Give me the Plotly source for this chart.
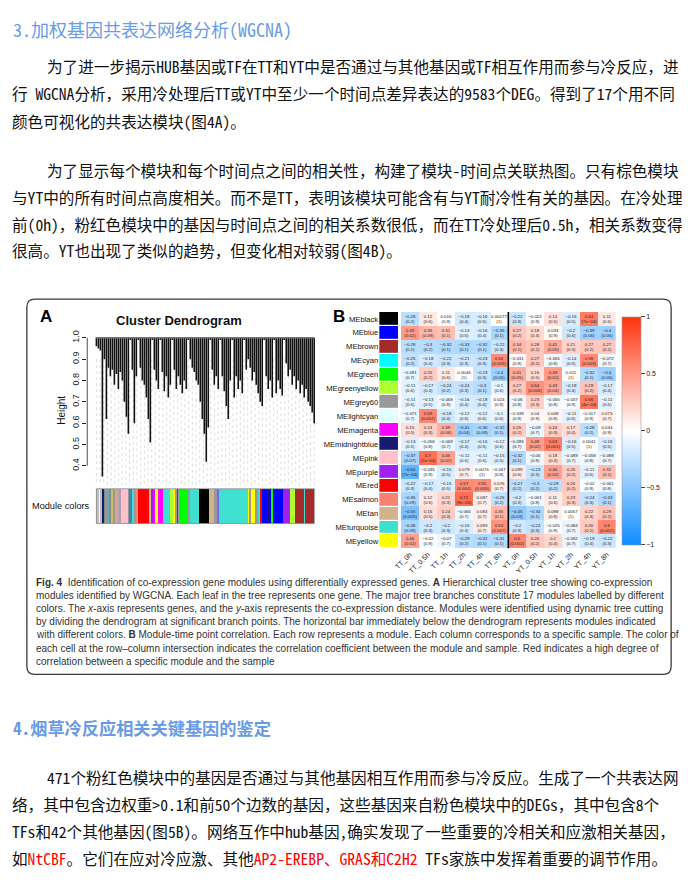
import numpy as np
import plotly.graph_objects as go

# page window size; the page body offsets the figure, so positions are given in window pixels
W, H = 690, 891
OX, OY = 15, 13
FW, FH = W - OX, H - OY


def px(x):
    return (x - OX) / FW


def py(y):
    return 1 - (y - OY) / FH


# ---- heatmap data (Fig. 4B) ----
modules = ["MEblack", "MEblue", "MEbrown", "MEcyan", "MEgreen", "MEgreenyellow", "MEgrey60",
           "MElightcyan", "MEmagenta", "MEmidnightblue", "MEpink", "MEpurple", "MEred",
           "MEsalmon", "MEtan", "MEturquoise", "MEyellow"]
module_colors = ["#000000", "#0000ff", "#a52a2a", "#00ffff", "#00ff00", "#adff2f", "#999999",
                 "#e0ffff", "#ff00ff", "#191970", "#ffc0cb", "#a020f0", "#ff0000",
                 "#fa8072", "#d2b48c", "#40e0d0", "#ffff00"]
samples = ["TT_0h", "TT_0.5h", "TT_1h", "TT_2h", "TT_4h", "TT_8h",
           "YT_0h", "YT_0.5h", "YT_1h", "YT_2h", "YT_4h", "YT_8h"]

cor = [
    [-0.28, 0.12, 0.016, -0.18, -0.16, 0.00077, -0.22, -0.022, 0.14, -0.16, 0.64, 0.11],
    [0.49, 0.35, 0.31, -0.13, -0.16, -0.35, 0.27, 0.18, 0.033, -0.2, -0.39, -0.4],
    [-0.28, -0.3, -0.32, -0.33, -0.32, -0.22, 0.34, 0.28, 0.41, 0.21, 0.27, 0.27],
    [-0.25, -0.18, -0.22, -0.21, -0.23, 0.56, -0.031, 0.27, -0.065, -0.14, 0.58, -0.072],
    [-0.091, 0.25, 0.11, 0.0046, -0.23, -0.4, 0.41, 0.16, 0.49, 0.011, -0.32, -0.4],
    [-0.11, -0.17, -0.24, -0.24, -0.3, -0.1, 0.27, 0.54, 0.43, -0.18, 0.29, -0.17],
    [-0.11, -0.13, -0.068, -0.16, -0.18, 0.024, -0.06, 0.23, -0.055, -0.037, 0.66, -0.11],
    [-0.071, 0.59, -0.18, -0.12, -0.12, -0.1, -0.039, 0.04, 0.048, -0.11, -0.017, 0.073],
    [0.15, 0.24, 0.39, -0.41, -0.36, -0.32, 0.25, -0.09, 0.24, 0.17, -0.28, 0.034],
    [-0.13, -0.056, -0.069, -0.17, -0.16, -0.12, -0.095, 0.48, 0.63, -0.16, 0.0041, -0.16],
    [-0.37, 0.7, 0.46, -0.11, -0.11, -0.15, -0.32, -0.06, 0.18, -0.089, -0.058, -0.088],
    [-0.64, -0.035, -0.15, 0.079, 0.0074, -0.047, 0.099, -0.23, 0.46, 0.25, -0.11, 0.32],
    [-0.22, -0.17, -0.15, 0.57, 0.55, 0.076, -0.27, -0.3, -0.29, 0.26, -0.02, -0.061],
    [-0.35, 0.12, 0.21, 0.71, 0.087, -0.26, -0.2, -0.061, 0.11, 0.23, -0.24, -0.33],
    [-0.55, 0.16, 0.24, -0.066, 0.084, 0.35, -0.45, -0.34, 0.088, 0.0067, 0.22, 0.29],
    [-0.36, -0.2, -0.2, -0.16, 0.093, 0.53, -0.2, -0.24, -0.025, -0.084, 0.26, 0.6],
    [0.46, -0.02, -0.07, -0.29, -0.32, -0.31, 0.6, 0.26, 0.2, -0.092, -0.19, -0.22],
]
pvals = [
    ["0.2", "0.6", "0.9", "0.4", "0.5", "1", "0.3", "0.9", "0.5", "0.5", "7e-04", "0.6"],
    ["0.02", "0.09", "0.1", "0.6", "0.4", "0.1", "0.2", "0.4", "0.9", "0.4", "0.06", "0.06"],
    ["0.2", "0.2", "0.1", "0.1", "0.1", "0.3", "0.1", "0.2", "0.05", "0.3", "0.2", "0.2"],
    ["0.2", "0.4", "0.3", "0.3", "0.3", "0.005", "0.9", "0.2", "0.8", "0.5", "0.003", "0.7"],
    ["0.7", "0.2", "0.6", "1", "0.3", "0.05", "0.05", "0.5", "0.01", "1", "0.1", "0.06"],
    ["0.6", "0.4", "0.2", "0.3", "0.1", "0.6", "0.2", "0.006", "0.04", "0.4", "0.2", "0.4"],
    ["0.6", "0.5", "0.8", "0.4", "0.4", "0.9", "0.8", "0.3", "0.8", "0.9", "4e-04", "0.6"],
    ["0.7", "0.002", "0.4", "0.6", "0.6", "0.6", "0.9", "0.9", "0.8", "0.6", "0.9", "0.7"],
    ["0.5", "0.3", "0.06", "0.04", "0.09", "0.1", "0.2", "0.7", "0.3", "0.4", "0.2", "0.9"],
    ["0.5", "0.8", "0.7", "0.4", "0.5", "0.6", "0.7", "0.02", "0.001", "0.5", "1", "0.5"],
    ["0.07", "2e-04", "0.02", "0.6", "0.6", "0.5", "0.1", "0.8", "0.4", "0.7", "0.8", "0.7"],
    ["7e-04", "0.9", "0.5", "0.7", "1", "0.8", "0.6", "0.3", "0.02", "0.2", "0.6", "0.1"],
    ["0.3", "0.4", "0.5", "0.004", "0.005", "0.7", "0.2", "0.2", "0.2", "0.2", "0.9", "0.8"],
    ["0.09", "0.6", "0.3", "9e-05", "0.7", "0.2", "0.3", "0.8", "0.6", "0.3", "0.3", "0.1"],
    ["0.005", "0.5", "0.3", "0.7", "0.7", "0.1", "0.03", "0.1", "0.8", "1", "0.3", "0.2"],
    ["0.09", "0.3", "0.3", "0.4", "0.7", "0.007", "0.3", "0.3", "0.9", "0.7", "0.2", "0.002"],
    ["0.02", "0.9", "0.7", "0.2", "0.1", "0.1", "0.002", "0.2", "0.4", "0.7", "0.4", "0.3"],
]

# ---- dendrogram (Fig. 4A): lowest height reached by each leaf bundle, left to right ----
leaf_height = [0.96, 0.95, 0.94, 0.35, 0.90, 0.62, 0.86, 0.82, 0.85, 0.78,
               0.83, 0.76, 0.84, 0.80, 0.70, 0.63, 0.55, 0.99, 0.85, 0.60,
               0.82, 0.99, 0.86, 0.80, 0.78, 0.72, 0.62, 0.51, 0.99, 0.85,
               0.80, 0.76, 0.99, 0.84, 0.75, 0.82, 0.72, 0.78, 0.99, 0.85,
               0.76, 0.82, 0.78, 0.74, 0.80, 0.76, 0.99, 0.90, 0.86, 0.84,
               0.80, 0.78, 0.70, 0.62, 0.55, 0.42, 0.58, 0.99, 0.85, 0.78,
               0.82, 0.76, 0.99, 0.82, 0.75, 0.68, 0.62, 0.80, 0.99, 0.72,
               0.82, 0.76, 0.80, 0.74, 0.99, 0.85, 0.90, 0.86, 0.80, 0.84,
               0.78, 0.74, 0.70, 0.68, 0.99, 0.82, 0.76, 0.80, 0.72, 0.99,
               0.74, 0.80, 0.76, 0.73, 0.99, 0.88, 0.82, 0.85, 0.78, 0.82,
               0.76, 0.80, 0.74, 0.78, 0.72, 0.76, 0.70, 0.68, 0.65, 0.60]

# module colour strip under the dendrogram (% of genes per run)
bar_colors = ["#bebebe", "#e0ffff", "#bebebe", "#191970", "#7a8a8a", "#999999", "#5fb0b0",
              "#888888", "#c8c060", "#999999", "#e0a0a0", "#b0a0a8", "#ffc0cb", "#999999",
              "#4682b4", "#40e0d0", "#999999", "#fa8072", "#ff0000", "#d2b48c", "#a020f0",
              "#ff00ff", "#ffff00", "#ff00ff", "#40e0d0", "#adff2f", "#ffff00", "#999999",
              "#ff0000", "#999999", "#00ff00", "#999999", "#40e0d0", "#000000", "#d2b48c",
              "#999999", "#7b68ee", "#40e0d0", "#ffff00", "#999999", "#ffff00", "#999999",
              "#40e0d0", "#ff0000", "#0000ff", "#191970", "#0000ff", "#00ff00", "#0000ff",
              "#a020f0", "#adff2f", "#a52a2a", "#40e0d0", "#a52a2a"]
bar_widths = [1.5, 0.6, 0.9, 0.8, 0.5, 0.9, 0.9,
              0.9, 0.9, 1.2, 0.8, 1.5, 3.0, 1.1,
              0.9, 1.1, 0.8, 0.8, 5.6, 0.9, 0.9,
              0.6, 1.1, 2.6, 3.5, 0.8, 1.2, 0.9,
              0.6, 0.6, 3.9, 0.6, 4.2, 4.5, 2.7,
              1.1, 1.1, 13.0, 1.1, 0.5, 1.8, 1.5,
              1.2, 0.6, 2.7, 0.8, 0.8, 0.8, 4.5,
              3.0, 2.3, 4.5, 0.5, 4.1]

height_ticks = [0.4, 0.5, 0.6, 0.7, 0.8, 0.9, 1.0]
n_guides = 60

caption = [
    "<b>Fig. 4</b>  Identification of co-expression gene modules using differentially expressed genes. <b>A</b> Hierarchical cluster tree showing co-expression",
    "modules identified by WGCNA. Each leaf in the tree represents one gene. The major tree branches constitute 17 modules labelled by different",
    "colors. The <i>x</i>-axis represents genes, and the <i>y</i>-axis represents the co-expression distance. Modules were identified using dynamic tree cutting",
    "by dividing the dendrogram at significant branch points. The horizontal bar immediately below the dendrogram represents modules indicated",
    "with different colors. <b>B</b> Module-time point correlation. Each row represents a module. Each column corresponds to a specific sample. The color of",
    "each cell at the row–column intersection indicates the correlation coefficient between the module and sample. Red indicates a high degree of",
    "correlation between a specific module and the sample",
]

para1 = ["为了进一步揭示HUB基因或TF在TT和YT中是否通过与其他基因或TF相互作用而参与冷反应，进",
         "行 WGCNA分析，采用冷处理后TT或YT中至少一个时间点差异表达的9583个DEG。得到了17个用不同",
         "颜色可视化的共表达模块(图4A)。"]
para2 = ["为了显示每个模块和每个时间点之间的相关性，构建了模块-时间点关联热图。只有棕色模块",
         "与YT中的所有时间点高度相关。而不是TT，表明该模块可能含有与YT耐冷性有关的基因。在冷处理",
         "前(0h)，粉红色模块中的基因与时间点之间的相关系数很低，而在TT冷处理后0.5h，相关系数变得",
         "很高。YT也出现了类似的趋势，但变化相对较弱(图4B)。"]
red = '<span style="color:#ff0000">{}</span>'
para3 = ["471个粉红色模块中的基因是否通过与其他基因相互作用而参与冷反应。生成了一个共表达网",
         "络，其中包含边权重&gt;0.1和前50个边数的基因，这些基因来自粉色模块中的DEGs，其中包含8个",
         "TFs和42个其他基因(图5B)。网络互作中hub基因,确实发现了一些重要的冷相关和应激相关基因，",
         "如" + red.format("NtCBF") + "。它们在应对冷应激、其他" + red.format("AP2-EREBP、GRAS和C2H2")
         + " TFs家族中发挥着重要的调节作用。"]

CJK = "Noto Sans Mono CJK SC, Noto Sans CJK SC"
SANS = "Liberation Sans"
BODY = 15.6

fig = go.Figure()

# dendrogram leaves
n = len(leaf_height)
leaf_x = np.linspace(0, 100, n)
dx, dy = [], []
for x, h in zip(leaf_x, leaf_height):
    dx += [x, x, None]
    dy += [1.0, h, None]
gx, gy = [], []
for x in np.linspace(0, 100, n_guides):
    k = int(round(x / 100 * (n - 1)))
    gx += [x, x, None]
    gy += [min(leaf_height[k], 0.9), 0.307, None]
fig.add_trace(go.Scatter(x=gx, y=gy, mode="lines", xaxis="x", yaxis="y",
                         line=dict(color="#cfcfcf", width=0.7, dash="dot"),
                         hoverinfo="skip", showlegend=False))
fig.add_trace(go.Scatter(x=dx, y=dy, mode="lines", xaxis="x", yaxis="y",
                         line=dict(color="#111111", width=1.6),
                         hoverinfo="skip", showlegend=False))
fig.add_trace(go.Scatter(x=[0, 100], y=[1.0, 1.0], mode="lines", xaxis="x", yaxis="y",
                         line=dict(color="#777777", width=1.4),
                         hoverinfo="skip", showlegend=False))

# module colour strip
starts = np.concatenate([[0], np.cumsum(bar_widths)[:-1]])
centers = starts + np.array(bar_widths) / 2
fig.add_trace(go.Bar(x=centers, y=[1] * len(bar_widths), width=bar_widths, base=0,
                     marker=dict(color=bar_colors, line=dict(width=0)),
                     xaxis="x2", yaxis="y2", hoverinfo="skip", showlegend=False))

# correlation heatmap
fmt = lambda v: str(v).replace("-", "−")
cell_text = [[f"{fmt(c)}<br>({p.replace('-', '−')})" for c, p in zip(rc, rp)]
             for rc, rp in zip(cor, pvals)]
fig.add_trace(go.Heatmap(
    z=cor, x=samples, y=modules, text=cell_text, texttemplate="%{text}",
    textfont=dict(size=4.4, color="#222222", family=SANS),
    zmin=-1, zmax=1, xaxis="x3", yaxis="y3", hoverinfo="skip",
    colorscale=[[0, "rgb(13,140,255)"], [0.5, "rgb(255,255,255)"], [1, "rgb(255,51,13)"]],
    colorbar=dict(x=px(628), xanchor="left", y=py(318), yanchor="top",
                  len=228, lenmode="pixels", thickness=19, thicknessmode="pixels",
                  outlinewidth=0.6, outlinecolor="#999999", xpad=0, ypad=0,
                  tickvals=[-1, -0.5, 0, 0.5, 1], ticktext=["−1", "−0.5", "0", "0.5", "1"],
                  ticks="outside", ticklen=4, tickfont=dict(size=7, family=SANS, color="#222"))))

# module swatches
nm = len(modules)
fig.add_trace(go.Heatmap(
    z=[[i] for i in range(nm)], x=["color"], y=modules, zmin=0, zmax=nm - 1,
    colorscale=[[i / (nm - 1), c] for i, c in enumerate(module_colors)],
    showscale=False, ygap=1.2, xaxis="x4", yaxis="y4", hoverinfo="skip"))

fig.update_layout(
    width=FW, height=FH, margin=dict(l=0, r=0, t=0, b=0),
    paper_bgcolor="white", plot_bgcolor="white", bargap=0,
    xaxis=dict(domain=[px(88), px(327)], range=[-4.2, 104.4], visible=False),
    yaxis=dict(domain=[py(488), py(337)], range=[0.307, 1.0093],
               tickvals=height_ticks, ticktext=[f"{t:.1f}" for t in height_ticks],
               tickangle=-90, ticks="outside", ticklen=4, tickwidth=0.8, tickcolor="#222",
               tickfont=dict(size=9, family=SANS, color="#222"),
               showgrid=False, zeroline=False, showline=False),
    xaxis2=dict(domain=[px(88), px(327)], range=[-4.2, 104.4], visible=False, anchor="y2"),
    yaxis2=dict(domain=[py(526), py(491)], range=[0, 1], visible=False, anchor="x2"),
    xaxis3=dict(domain=[px(405), px(622)], anchor="y3", tickangle=-45,
                tickfont=dict(size=7, family=SANS, color="#222"), ticks="", showgrid=False),
    yaxis3=dict(domain=[py(551), py(313)], anchor="x3", autorange="reversed",
                showticklabels=False, ticks="", showgrid=False),
    xaxis4=dict(domain=[px(383), px(402)], anchor="y4", visible=False),
    yaxis4=dict(domain=[py(551), py(313)], anchor="x4", autorange="reversed",
                ticks="", showgrid=False, tickfont=dict(size=7.6, family=SANS, color="#111")),
)

# dendrogram y-axis line (R style: only across the tick range)
fig.add_shape(type="line", xref="x domain", yref="y", x0=0, x1=0,
              y0=height_ticks[0], y1=height_ticks[-1], line=dict(color="#222", width=0.8))
# outline of colour strip
fig.add_shape(type="rect", xref="x2", yref="y2 domain", x0=0, x1=float(sum(bar_widths)),
              y0=0, y1=1, line=dict(color="#8a8a8a", width=0.8))
# TT / YT separator
sep = samples.index("YT_0h") - 0.5
fig.add_shape(type="line", xref="x3", yref="y3 domain", x0=sep, x1=sep, y0=0, y1=1,
              line=dict(color="#000", width=1.6))

# rounded figure frame
x0, x1, y0, y1, r = 27, 678, 300, 678, 8
path = (f"M {px(x0 + r)} {py(y0)} L {px(x1 - r)} {py(y0)} Q {px(x1)} {py(y0)} {px(x1)} {py(y0 + r)} "
        f"L {px(x1)} {py(y1 - r)} Q {px(x1)} {py(y1)} {px(x1 - r)} {py(y1)} "
        f"L {px(x0 + r)} {py(y1)} Q {px(x0)} {py(y1)} {px(x0)} {py(y1 - r)} "
        f"L {px(x0)} {py(y0 + r)} Q {px(x0)} {py(y0)} {px(x0 + r)} {py(y0)} Z")
fig.add_shape(type="path", xref="paper", yref="paper", path=path,
              line=dict(color="#3a3a3a", width=1.3))


def label(x, y, text, size, family=SANS, color="#111", xanchor="left", angle=0, yanchor="middle"):
    fig.add_annotation(x=px(x), y=py(y), xref="paper", yref="paper", text=text,
                       showarrow=False, xanchor=xanchor, yanchor=yanchor, textangle=angle,
                       font=dict(size=size, family=family, color=color))


label(38, 318, "<b>A</b>", 17, color="#000")
label(181, 322, "<b>Cluster Dendrogram</b>", 13, xanchor="center", color="#111")
label(334, 318, "<b>B</b>", 17, color="#000")
label(62, 412, "Height", 10, xanchor="center", angle=-90)
label(93, 508, "Module colors", 9.2, xanchor="right")

for i, line in enumerate(caption):
    label(34, 585 + i * 13.3, line, 10, color="#333")

blue = "#6a9be6"
# top heading sits flush with the top of the figure so nothing is clipped
label(11, OY, "3.加权基因共表达网络分析(WGCNA)", 18, family=CJK, color=blue, yanchor="top")
for i, line in enumerate(para1):
    label(45 if i == 0 else 10, 65 + i * 28, line, BODY, family=CJK, color="#111")
for i, line in enumerate(para2):
    label(45 if i == 0 else 10, 170 + i * 27, line, BODY, family=CJK, color="#111")
label(11, 731, "<b>4.烟草冷反应相关关键基因的鉴定</b>", 17.2, family=CJK, color=blue)
for i, line in enumerate(para3):
    label(45 if i == 0 else 10, 781 + i * 27.3, line, BODY, family=CJK, color="#111")

fig.write_html("out.html")
